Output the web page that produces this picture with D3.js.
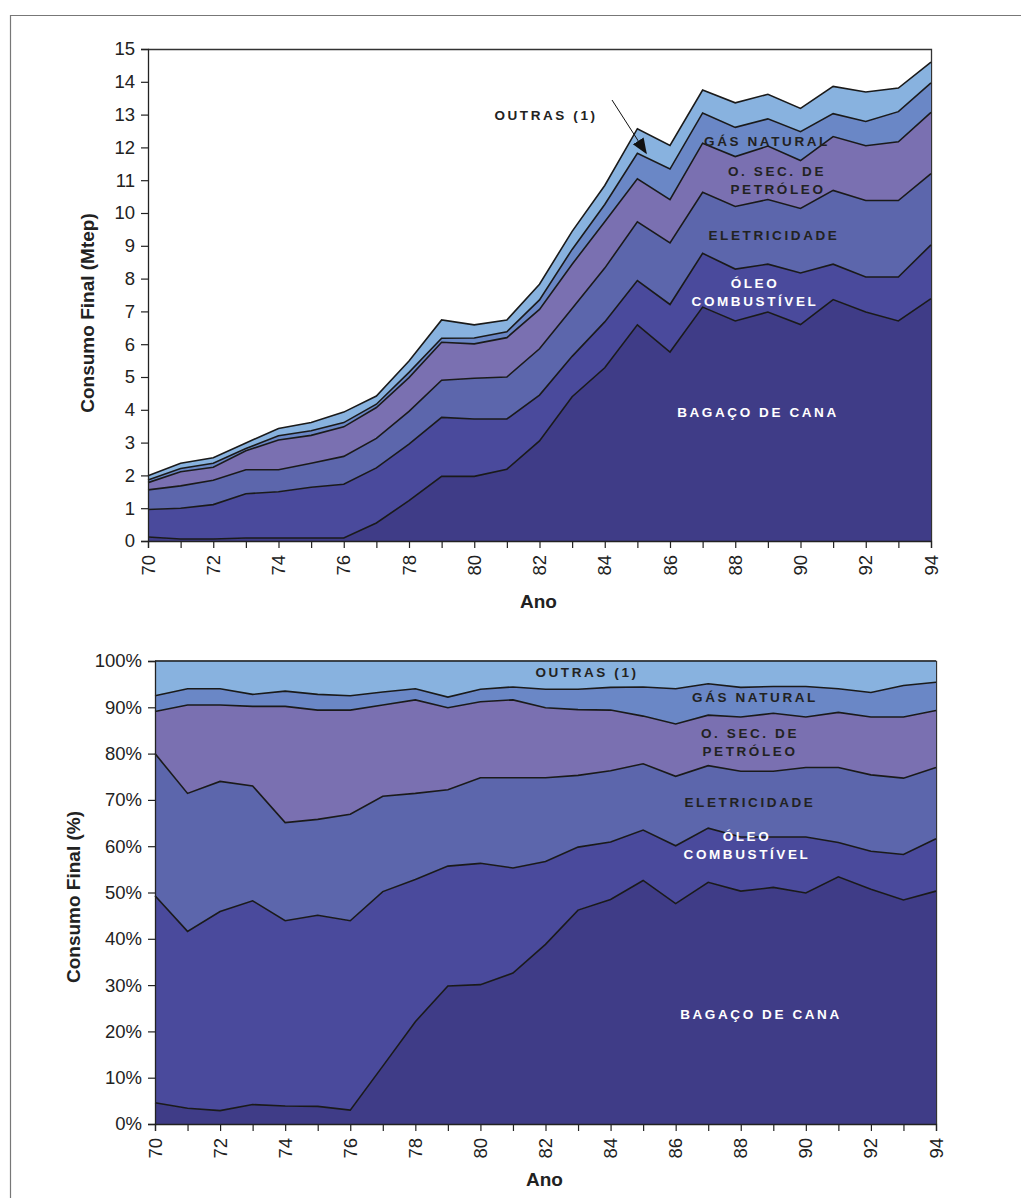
<!DOCTYPE html>
<html><head><meta charset="utf-8">
<script src="https://cdn.jsdelivr.net/npm/d3@7"></script>
<style>
body{margin:0;background:#fff;}
svg{display:block;font-family:"Liberation Sans",Arial,sans-serif;}
</style></head>
<body>
<svg id="chart" width="1021" height="1198"></svg>
<script>
const years = [70,71,72,73,74,75,76,77,78,79,80,81,82,83,84,85,86,87,88,89,90,91,92,93,94];
const seriesKeys = ["bagaco","oleo","eletricidade","osec","gas","outras"];
const xTickLabels = [70,72,74,76,78,80,82,84,86,88,90,92,94];
const yTicksMtep = [0,1,2,3,4,5,6,7,8,9,10,11,12,13,14,15];
const yTicksPct = [0,10,20,30,40,50,60,70,80,90,100];

// Consumo final (Mtep)
const bagaco = [0.12,0.06,0.06,0.09,0.09,0.09,0.09,0.55,1.23,1.97,1.97,2.19,3.05,4.40,5.28,6.59,5.76,7.13,6.71,6.98,6.60,7.36,6.98,6.71,7.39];
const oleo = [0.84,0.94,1.05,1.35,1.41,1.55,1.64,1.68,1.72,1.80,1.75,1.53,1.40,1.23,1.40,1.35,1.45,1.64,1.58,1.46,1.57,1.08,1.07,1.34,1.64];
const eletricidade = [0.60,0.68,0.74,0.73,0.67,0.73,0.85,0.90,1.00,1.13,1.24,1.28,1.41,1.46,1.64,1.79,1.88,1.86,1.91,1.97,1.97,2.25,2.33,2.33,2.17];
const osec = [0.22,0.43,0.40,0.58,0.91,0.85,0.90,0.94,1.03,1.16,1.05,1.20,1.20,1.35,1.41,1.31,1.32,1.50,1.52,1.63,1.46,1.64,1.67,1.79,1.87];
const gas = [0.08,0.10,0.12,0.07,0.13,0.14,0.13,0.10,0.16,0.12,0.18,0.18,0.29,0.45,0.53,0.78,0.93,0.92,0.89,0.83,0.88,0.70,0.74,0.92,0.90];
const outras = [0.13,0.16,0.17,0.17,0.22,0.25,0.32,0.25,0.35,0.56,0.40,0.36,0.48,0.55,0.58,0.75,0.72,0.70,0.75,0.75,0.71,0.83,0.90,0.72,0.63];

// Consumo final (%)
const bagacoPct = [4.6,3.4,2.9,4.2,3.9,3.8,3.0,12.5,22.1,29.8,30.1,32.6,38.8,46.2,48.5,52.6,47.6,52.2,50.3,51.1,49.9,53.4,50.7,48.4,50.3];
const oleoPct = [44.7,38.2,43.0,44.0,40.0,41.3,40.9,37.7,30.7,25.9,26.2,22.7,17.9,13.6,12.4,10.9,12.5,11.7,11.7,10.9,12.1,7.4,8.2,9.8,11.3];
const eletricidadePct = [30.7,29.8,28.1,24.8,21.2,20.7,23.0,20.6,18.6,16.5,18.5,19.5,18.1,15.5,15.4,14.3,15.0,13.5,14.2,14.2,15.0,16.2,16.5,16.5,15.4];
const osecPct = [9.1,19.1,16.5,17.2,25.1,23.6,22.5,19.7,20.2,17.7,16.4,16.8,15.1,14.2,13.1,10.3,11.3,10.9,11.7,12.5,10.9,11.9,12.5,13.2,12.3];
const gasPct = [3.4,3.5,3.5,2.6,3.3,3.4,3.1,2.8,2.4,2.3,2.7,2.8,4.0,4.4,4.9,6.3,7.6,6.8,6.4,5.8,6.6,5.1,5.3,6.8,6.1];
const outrasPct = [7.5,6.0,6.0,7.2,6.5,7.2,7.5,6.7,6.0,7.8,6.1,5.6,6.1,6.1,5.7,5.6,6.0,4.9,5.7,5.5,5.5,6.0,6.8,5.3,4.6];

const colors = {bagaco:"#3f3c87", oleo:"#4a4a9c", eletricidade:"#5c66ac", osec:"#7a70b1", gas:"#6a87c6", outras:"#88b2df"};

const svg = d3.select("#chart");

// outer frame
svg.append("path").attr("d","M10.5,1198 V15.5 H1021").attr("fill","none").attr("stroke","#777").attr("stroke-width",1.2);

function buildRows(arrs){
  return years.map((y,i)=>{
    const r = {year:y};
    seriesKeys.forEach((k,j)=>r[k]=arrs[j][i]);
    return r;
  });
}

function drawChart(opt){
  const rows = buildRows(opt.arrays);
  const stacked = d3.stack().keys(seriesKeys)(rows);
  const x = d3.scaleLinear().domain([70,94]).range([opt.x0,opt.x1]);
  const y = d3.scaleLinear().domain([0,opt.ymax]).range([opt.y0,opt.y1]);
  const g = svg.append("g");

  // plot frame (top & right)
  g.append("path").attr("d",`M${opt.x0},${opt.y1+0.5} H${opt.x1+0.5} V${opt.y0}`)
    .attr("fill","none").attr("stroke","#333").attr("stroke-width",1.3);

  const area = d3.area().x(d=>x(d.data.year)).y0(d=>y(d[0])).y1(d=>y(d[1]));
  const line = d3.line().x(d=>x(d.data.year)).y(d=>y(d[1]));
  g.selectAll(".a").data(stacked).join("path")
    .attr("d",area).attr("fill",d=>colors[d.key]);
  g.selectAll(".l").data(stacked).join("path")
    .attr("d",line).attr("fill","none").attr("stroke","#1a1a1a").attr("stroke-width",1.6).attr("stroke-linejoin","miter");

  // y axis
  const yAxis = d3.axisLeft(y).tickValues(opt.yTicks).tickSize(7).tickPadding(6)
    .tickFormat(opt.pct ? (d=>d+"%") : d3.format("d"));
  const ya = g.append("g").attr("transform",`translate(${opt.x0},0)`).call(yAxis);
  ya.select(".domain").attr("stroke","#222").attr("stroke-width",1.3);
  ya.selectAll(".tick line").attr("stroke","#222").attr("stroke-width",1.2);
  ya.selectAll(".tick text").attr("font-size",opt.tickFont).attr("fill","#222")
    .attr("font-family","'Liberation Sans',Arial,sans-serif");

  // x axis
  const xAxis = d3.axisBottom(x).tickValues(years).tickSize(7).tickFormat("");
  const xa = g.append("g").attr("transform",`translate(0,${opt.y0})`).call(xAxis);
  xa.select(".domain").attr("stroke","#222").attr("stroke-width",1.3);
  xa.selectAll(".tick line").attr("stroke","#222").attr("stroke-width",1.2);
  g.selectAll(".xl").data(xTickLabels).join("text")
    .attr("transform",d=>`translate(${x(d)+6.5},${opt.y0+14}) rotate(-90)`)
    .attr("text-anchor","end").attr("font-size",opt.tickFont).attr("fill","#222")
    .text(d=>d);

  // axis titles
  g.append("text").attr("x",(opt.x0+opt.x1)/2 - 1).attr("y",opt.anoY)
    .attr("text-anchor","middle").attr("font-weight","bold").attr("font-size",19).attr("fill","#222").text("Ano");
  g.append("text").attr("transform",`translate(${opt.yTitleX},${opt.yTitleY}) rotate(-90)`)
    .attr("text-anchor","middle").attr("font-weight","bold").attr("font-size",19).attr("fill","#222").text(opt.yTitle);

  // labels
  opt.labels.forEach(l=>{
    g.append("text").attr("x",l.x).attr("y",l.y).attr("text-anchor","middle")
      .attr("font-weight","bold").attr("font-size",13.5).attr("letter-spacing","2.6px")
      .attr("fill",l.c).text(l.t);
  });
  return {x,y,g};
}

const topChart = drawChart({
  arrays:[bagaco,oleo,eletricidade,osec,gas,outras],
  x0:148,x1:931,y0:541,y1:49,ymax:15,yTicks:yTicksMtep,pct:false,tickFont:18.5,
  anoY:608,yTitle:"Consumo Final (Mtep)",yTitleX:94,yTitleY:313,
  labels:[
    {t:"OUTRAS (1)",x:546,y:120,c:"#222"},
    {t:"GÁS NATURAL",x:767,y:146,c:"#222"},
    {t:"O. SEC. DE",x:777,y:176,c:"#222"},
    {t:"PETRÓLEO",x:778,y:194,c:"#222"},
    {t:"ELETRICIDADE",x:774,y:240,c:"#222"},
    {t:"ÓLEO",x:755,y:288,c:"#fff"},
    {t:"COMBUSTÍVEL",x:755,y:306,c:"#fff"},
    {t:"BAGAÇO DE CANA",x:758,y:417,c:"#fff"}
  ]
});
// arrow for OUTRAS (1)
const defs = svg.append("defs");
defs.append("marker").attr("id","arr").attr("viewBox","0 0 10 10")
  .attr("refX",9).attr("refY",5).attr("markerWidth",16).attr("markerHeight",16).attr("orient","auto")
  .attr("markerUnits","userSpaceOnUse")
  .append("path").attr("d","M0,1 L10,5 L0,9 z").attr("fill","#111");
svg.append("line").attr("x1",612).attr("y1",100).attr("x2",646).attr("y2",153)
  .attr("stroke","#111").attr("stroke-width",1)
  .attr("marker-end","url(#arr)");

drawChart({
  arrays:[bagacoPct,oleoPct,eletricidadePct,osecPct,gasPct,outrasPct],
  x0:155,x1:936,y0:1124,y1:661,ymax:100,yTicks:yTicksPct,pct:true,tickFont:18.5,
  anoY:1186,yTitle:"Consumo Final (%)",yTitleX:80,yTitleY:897,
  labels:[
    {t:"OUTRAS (1)",x:587,y:677,c:"#222"},
    {t:"GÁS NATURAL",x:755,y:702,c:"#222"},
    {t:"O. SEC. DE",x:750,y:738,c:"#222"},
    {t:"PETRÓLEO",x:750,y:756,c:"#222"},
    {t:"ELETRICIDADE",x:750,y:807,c:"#222"},
    {t:"ÓLEO",x:747,y:841,c:"#fff"},
    {t:"COMBUSTÍVEL",x:747,y:859,c:"#fff"},
    {t:"BAGAÇO DE CANA",x:761,y:1019,c:"#fff"}
  ]
});
</script>
</body></html>
